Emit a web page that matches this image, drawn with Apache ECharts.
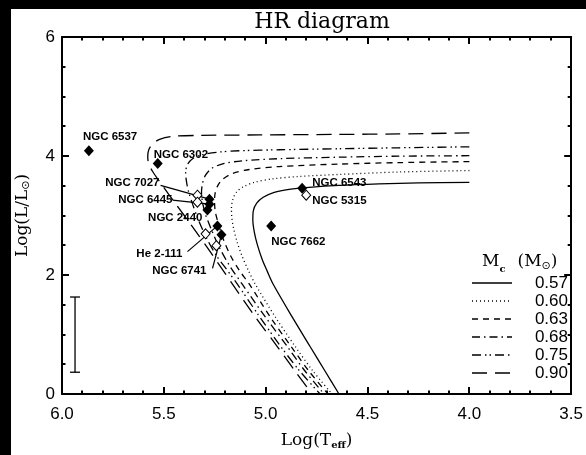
<!DOCTYPE html>
<html><head><meta charset="utf-8">
<script src="https://cdn.jsdelivr.net/npm/echarts@6/dist/echarts.min.js"></script>
<style>html,body{margin:0;padding:0;background:#fff}#chart{width:586px;height:455px}</style>
</head><body><div id="chart"></div>
<script>
// Post-AGB evolutionary tracks (core mass Mc) with PN central stars.
// Each track point: [log Teff, log L/Lsun]
const trackMasses = ['0.57', '0.60', '0.63', '0.68', '0.75', '0.90'];

const track057 = [[4.000,3.557],[4.249,3.548],[4.444,3.532],[4.640,3.507],[4.787,3.474],[4.885,3.440],[4.958,3.390],[5.012,3.307],[5.044,3.208],[5.061,3.075],[5.063,2.925],[5.056,2.726],[5.041,2.510],[5.017,2.260],[4.992,2.061],[4.963,1.845],[4.870,1.296],[4.782,0.798],[4.708,0.382],[4.640,0.000]];
const track060 = [[4.000,3.756],[4.346,3.731],[4.640,3.690],[4.836,3.656],[4.968,3.615],[5.056,3.557],[5.110,3.482],[5.144,3.390],[5.161,3.274],[5.168,3.125],[5.166,2.958],[5.156,2.759],[5.139,2.543],[5.115,2.310],[5.085,2.077],[5.051,1.845],[4.953,1.296],[4.855,0.798],[4.767,0.382],[4.674,0.000]];
const track063 = [[4.000,3.906],[4.346,3.889],[4.640,3.864],[4.933,3.823],[5.080,3.773],[5.163,3.706],[5.212,3.606],[5.237,3.490],[5.249,3.357],[5.251,3.224],[5.247,3.058],[5.232,2.858],[5.207,2.593],[5.173,2.327],[5.129,2.077],[5.080,1.845],[4.978,1.296],[4.875,0.798],[4.787,0.382],[4.694,0.000]];
const track068 = [[4.000,4.005],[4.346,3.997],[4.640,3.980],[4.933,3.955],[5.105,3.922],[5.207,3.872],[5.266,3.789],[5.296,3.673],[5.310,3.540],[5.315,3.390],[5.310,3.224],[5.296,3.025],[5.266,2.759],[5.227,2.460],[5.178,2.161],[5.115,1.845],[5.002,1.296],[4.894,0.798],[4.806,0.382],[4.713,0.000]];
const track075 = [[4.000,4.155],[4.346,4.138],[4.640,4.122],[4.933,4.105],[5.129,4.088],[5.237,4.064],[5.310,4.022],[5.359,3.955],[5.384,3.856],[5.393,3.723],[5.389,3.573],[5.379,3.407],[5.359,3.191],[5.330,2.925],[5.291,2.626],[5.242,2.327],[5.188,2.077],[5.139,1.845],[5.036,1.330],[4.933,0.831],[4.836,0.399],[4.733,0.000]];
const track090 = [[4.000,4.388],[4.346,4.371],[4.640,4.363],[5.031,4.354],[5.325,4.346],[5.462,4.329],[5.521,4.280],[5.555,4.205],[5.574,4.105],[5.579,3.989],[5.574,3.872],[5.555,3.739],[5.511,3.523],[5.437,3.174],[5.359,2.809],[5.276,2.410],[5.163,1.845],[5.051,1.296],[4.943,0.798],[4.855,0.382],[4.772,0.000]];

// Central stars: filled symbols
const starNames = ['NGC 6537', 'NGC 6302', 'NGC 7027', 'NGC 6445', 'NGC 2440', 'He 2-111', 'NGC 6741', 'NGC 6543', 'NGC 7662'];
const starLogT  = [5.868, 5.530, 5.276, 5.276, 5.286, 5.237, 5.217, 4.821, 4.973];
const starLogL  = [4.088, 3.872, 3.274, 3.191, 3.091, 2.825, 2.676, 3.457, 2.825];

// Alternative estimates: open symbols
const altNames = ['NGC 7027', 'NGC 6445', 'He 2-111', 'NGC 6741', 'NGC 5315'];
const altLogT  = [5.335, 5.335, 5.295, 5.242, 4.801];
const altLogL  = [3.341, 3.224, 2.692, 2.493, 3.341];

// Leader lines: start near the label [logT, logL], ending at the star
const leaderNames = ['NGC 7027', 'NGC 6445', 'He 2-111', 'NGC 6741'];
const leaderFrom  = [[5.516, 3.507], [5.457, 3.257], [5.384, 2.393], [5.261, 2.111]];

// Typical uncertainty in log L
const errLogT = 5.936;
const errLow = 0.366;
const errHigh = 1.630;

// Axis ticks
const xTicks = [6.0, 5.5, 5.0, 4.5, 4.0, 3.5];
const yTicks = [0, 2, 4, 6];
const xMinorStep = 0.1;
const yMinorStep = 0.5;

// ---- styling ----
const BLACK = '#000';
const tracks = [track057, track060, track063, track068, track075, track090];
const dashes = ['solid', [1, 3], [6, 5], [8, 4, 1.5, 4], [9, 4, 1.5, 3, 1.5, 4], [15, 8]];

const labelPlace = {
  'NGC 6537': {align: 'left',  offset: [-6, -14]},
  'NGC 6302': {align: 'left',  offset: [-4, -8.5]},
  'NGC 7027': {align: 'right', offset: [-50, -16]},
  'NGC 6445': {align: 'right', offset: [-37, -4]},
  'NGC 2440': {align: 'right', offset: [-5, 8]},
  'He 2-111': {align: 'right', offset: [-35, 28]},
  'NGC 6741': {align: 'right', offset: [-15, 36]},
  'NGC 6543': {align: 'left',  offset: [10, -5]},
  'NGC 7662': {align: 'left',  offset: [0, 16]},
  'NGC 5315': {align: 'left',  offset: [6, 5.5]}
};
const labelFont = {fontFamily: 'Liberation Sans', fontSize: 11.5, fontWeight: 'bold', color: BLACK};

function starLabel(name) {
  const p = labelPlace[name];
  if (!p) return {show: false};
  return Object.assign({show: true, position: 'inside', formatter: name,
    align: p.align, verticalAlign: 'middle', offset: p.offset}, labelFont);
}

const xMin = Math.min.apply(null, xTicks), xMax = Math.max.apply(null, xTicks);
const yMin = Math.min.apply(null, yTicks), yMax = Math.max.apply(null, yTicks);

const series = [];
tracks.forEach((t, i) => {
  series.push({
    type: 'line', name: trackMasses[i], data: t, showSymbol: false, symbol: 'none',
    smooth: 0.3, clip: true, silent: true, z: 2,
    lineStyle: {color: BLACK, width: 1.3, type: dashes[i]}
  });
});

leaderNames.forEach((n, i) => {
  const k = starNames.indexOf(n);
  series.push({
    type: 'line', data: [leaderFrom[i], [starLogT[k], starLogL[k]]],
    showSymbol: false, symbol: 'none', silent: true, z: 3,
    lineStyle: {color: BLACK, width: 1.2}
  });
});

series.push({
  type: 'custom', z: 3, silent: true,
  data: [[errLogT, errLow, errHigh]],
  renderItem: function (params, api) {
    const lo = api.coord([api.value(0), api.value(1)]);
    const hi = api.coord([api.value(0), api.value(2)]);
    const w = 5;
    const st = {stroke: BLACK, lineWidth: 1.3};
    return {type: 'group', children: [
      {type: 'line', shape: {x1: lo[0], y1: lo[1], x2: hi[0], y2: hi[1]}, style: st},
      {type: 'line', shape: {x1: lo[0] - w, y1: lo[1], x2: lo[0] + w, y2: lo[1]}, style: st},
      {type: 'line', shape: {x1: hi[0] - w, y1: hi[1], x2: hi[0] + w, y2: hi[1]}, style: st}
    ]};
  }
});

series.push({
  type: 'scatter', z: 5, symbol: 'diamond', symbolSize: [9, 10], silent: true,
  itemStyle: {color: '#fff', borderColor: BLACK, borderWidth: 1, opacity: 1},
  data: altNames.map((n, i) => ({value: [altLogT[i], altLogL[i]], label: n === 'NGC 5315' ? starLabel(n) : {show: false}}))
});

series.push({
  type: 'scatter', z: 6, symbol: 'diamond', symbolSize: [10, 11], silent: true,
  itemStyle: {color: BLACK, opacity: 1},
  data: starNames.map((n, i) => ({value: [starLogT[i], starLogL[i]], label: starLabel(n)}))
});

// ---- legend drawn beside the tracks ----
const legendGraphic = [];
const legTop = 283, legStep = 18;
trackMasses.forEach((m, i) => {
  const y = legTop + i * legStep;
  legendGraphic.push({type: 'line', shape: {x1: 472, y1: y, x2: 512, y2: y},
    style: {stroke: BLACK, lineWidth: 1.3, lineDash: dashes[i] === 'solid' ? null : dashes[i]}, z: 10});
  legendGraphic.push({type: 'text', x: 568, y: y, z: 10,
    style: {text: m, fill: BLACK, font: '17px "Liberation Sans"', textAlign: 'right', textVerticalAlign: 'middle'}});
});
legendGraphic.push({type: 'text', x: 482, y: 262, z: 10,
  style: {text: '{m|M}{c|c}{sp|}{m|(M}{s|⊙}{m|)}', textVerticalAlign: 'middle',
    rich: {m: {fontFamily: 'DejaVu Serif', fontSize: 17, fill: BLACK},
           c: {fontFamily: 'DejaVu Serif', fontSize: 10, fontWeight: 'bold', fill: BLACK, padding: [14, 0, 0, 0]},
           sp: {width: 12},
           s: {fontFamily: 'DejaVu Sans', fontSize: 11, fill: BLACK, padding: [8, 0, 0, 0]}}}});

// frame strips at left and top
legendGraphic.push({type: 'rect', shape: {x: 0, y: 0, width: 11, height: 455}, style: {fill: BLACK}, z: 20});
legendGraphic.push({type: 'rect', shape: {x: 0, y: 0, width: 586, height: 9}, style: {fill: BLACK}, z: 20});

function makeAxis(extra) {
  return Object.assign({
    axisLine: {show: true, onZero: false, lineStyle: {color: BLACK, width: 2}},
    axisTick: {show: false},
    minorTick: {show: false},
    splitLine: {show: false}, minorSplitLine: {show: false}
  }, extra);
}

const option = {
  animation: false,
  backgroundColor: '#fff',
  title: {text: 'HR diagram', left: 317, top: 6, textAlign: 'center',
    textStyle: {fontFamily: 'DejaVu Serif', fontSize: 22, fontWeight: 'normal', color: BLACK}},
  grid: {left: 62, right: 13, top: 37, bottom: 57, containLabel: false},
  xAxis: [
    makeAxis({
      type: 'value', position: 'bottom', min: xMin, max: xMax, interval: 0.5, inverse: true,
      axisLabel: {formatter: v => v.toFixed(1), fontFamily: 'Liberation Sans', fontSize: 17, color: BLACK, margin: 12},
      name: '{a|Log(T}{b|eff}{a|)}', nameLocation: 'middle', nameGap: 38,
      nameTextStyle: {rich: {a: {fontFamily: 'DejaVu Serif', fontSize: 17, color: BLACK},
        b: {fontFamily: 'DejaVu Serif', fontSize: 10, fontWeight: 'bold', color: BLACK, padding: [8, 0, 0, 0]}}}
    }),
    makeAxis({
      type: 'value', position: 'top', min: xMin, max: xMax, interval: 0.5, inverse: true,
      axisLabel: {show: false}
    })
  ],
  yAxis: [
    makeAxis({
      type: 'value', position: 'left', min: yMin, max: yMax, interval: 2,
      axisLabel: {fontFamily: 'Liberation Sans', fontSize: 17, color: BLACK, margin: 7},
      name: '{a|Log(L/L}{s|⊙}{a|)}', nameLocation: 'middle', nameGap: 30, nameRotate: 90,
      nameTextStyle: {rich: {a: {fontFamily: 'DejaVu Serif', fontSize: 17, color: BLACK},
        s: {fontFamily: 'DejaVu Sans', fontSize: 11, color: BLACK, padding: [8, 0, 0, 0]}}}
    }),
    makeAxis({
      type: 'value', position: 'right', min: yMin, max: yMax, interval: 2,
      axisLabel: {show: false}
    })
  ],
  series: series
};

const chart = echarts.init(document.getElementById('chart'), null, {renderer: 'canvas'});
chart.setOption(option);

// inward tick marks on all four sides, positioned through the axis scales
const tickGraphic = [];
const frameL = chart.convertToPixel({xAxisIndex: 0}, xMax);
const frameR = chart.convertToPixel({xAxisIndex: 0}, xMin);
const frameB = chart.convertToPixel({yAxisIndex: 0}, yMin);
const frameT = chart.convertToPixel({yAxisIndex: 0}, yMax);
const tickStyle = {stroke: BLACK, lineWidth: 2};
for (let k = 0; k <= Math.round((xMax - xMin) / xMinorStep); k++) {
  const v = xMin + k * xMinorStep;
  const len = xTicks.some(t => Math.abs(t - v) < 1e-6) ? 7 : 3.5;
  const px = Math.round(chart.convertToPixel({xAxisIndex: 0}, v));
  tickGraphic.push({type: 'line', z: 15, shape: {x1: px, y1: frameB, x2: px, y2: frameB - len}, style: tickStyle});
  tickGraphic.push({type: 'line', z: 15, shape: {x1: px, y1: frameT, x2: px, y2: frameT + len}, style: tickStyle});
}
for (let k = 0; k <= Math.round((yMax - yMin) / yMinorStep); k++) {
  const v = yMin + k * yMinorStep;
  const len = yTicks.some(t => Math.abs(t - v) < 1e-6) ? 7 : 3.5;
  const py = Math.round(chart.convertToPixel({yAxisIndex: 0}, v));
  tickGraphic.push({type: 'line', z: 15, shape: {x1: frameL, y1: py, x2: frameL + len, y2: py}, style: tickStyle});
  tickGraphic.push({type: 'line', z: 15, shape: {x1: frameR, y1: py, x2: frameR - len, y2: py}, style: tickStyle});
}
chart.setOption({graphic: legendGraphic.concat(tickGraphic)});
</script>
</body></html>
